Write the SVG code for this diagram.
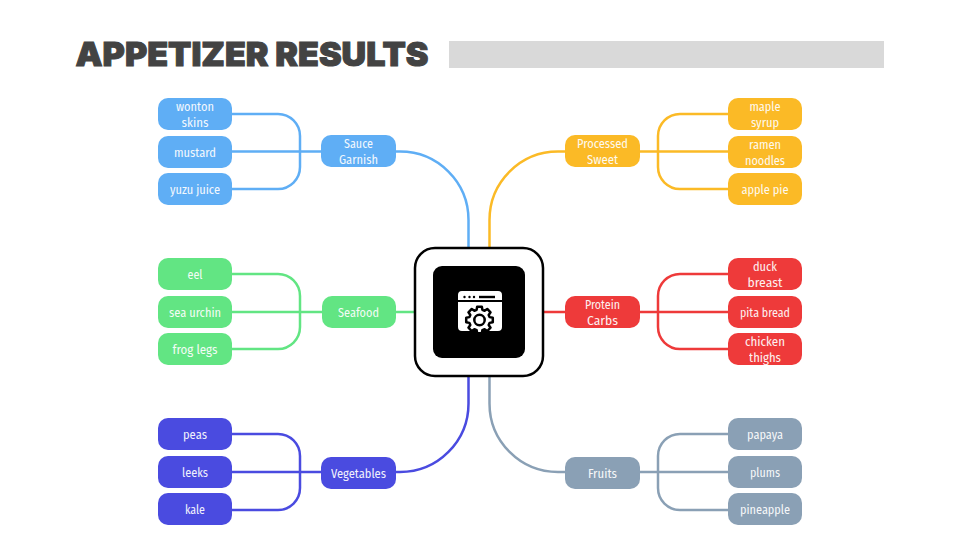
<svg xmlns="http://www.w3.org/2000/svg" width="960" height="540" viewBox="0 0 960 540">
<style>
text{font-family:"Fira Sans Condensed","Noto Sans","Liberation Sans",sans-serif;font-size:13px;fill:#fff;text-anchor:middle;opacity:.92}
#title{font-family:Inter,"Liberation Sans",sans-serif;font-weight:900;font-size:33px;fill:#434343;stroke:#434343;stroke-width:1;text-anchor:start;opacity:1}
.n{rx:10px;ry:10px}
.c{fill:none;stroke-width:2.5}
.blue{fill:#5FAEF5}.yellow{fill:#FBBA26}.green{fill:#62E583}.red{fill:#EE3A3A}.indigo{fill:#4A4BE0}.slate{fill:#8AA0B5}
.sb{stroke:#5FAEF5}.sy{stroke:#FBBA26}.sg{stroke:#62E583}.sr{stroke:#EE3A3A}.si{stroke:#4A4BE0}.ss{stroke:#8AA0B5}
</style>
<text id="title" x="75.500" y="66" textLength="353" lengthAdjust="spacingAndGlyphs">APPETIZER RESULTS</text>
<rect x="449" y="41" width="435" height="27" fill="#D9D9D9"/>
<g id="connectors">
<path class="c sb" d="M232 114H278A22 22 0 0 1 300 136V167A22 22 0 0 1 278 189H232M232 151.500H321M396 151.500H400A68.500 68.500 0 0 1 468.500 220V248"/>
<path class="c sy" d="M728 114H680A22 22 0 0 0 658 136V167A22 22 0 0 0 680 189H728M728 151.500H640M565 151.500H558A68.500 68.500 0 0 0 489.500 220V248"/>
<path class="c sg" d="M232 274H278A22 22 0 0 1 300 296V327A22 22 0 0 1 278 349H232M232 312H322M396 312H415"/>
<path class="c sr" d="M728 274H680A22 22 0 0 0 658 296V327A22 22 0 0 0 680 349H728M728 312H640M565 312H543"/>
<path class="c si" d="M232 434H278A22 22 0 0 1 300 456V488A22 22 0 0 1 278 510H232M232 472H321M396 472H400A68.500 68.500 0 0 0 468.500 403.500V376"/>
<path class="c ss" d="M728 434H680A22 22 0 0 0 658 456V488A22 22 0 0 0 680 510H728M728 472H640M565 472H558A68.500 68.500 0 0 1 489.500 403.500V376"/>
</g>
<g id="center">
<rect x="415" y="248" width="128" height="128" rx="20" fill="#fff" stroke="#000" stroke-width="2.500"/>
<rect x="433" y="266" width="92" height="92" rx="9" fill="#000"/>
<path d="M458 300V295A4 4 0 0 1 462 291H498A4 4 0 0 1 502 295V300ZM458 302H502V327A4 4 0 0 1 498 331H462A4 4 0 0 1 458 327Z" fill="#fff"/>
<circle cx="464.500" cy="297" r="1.200"/><circle cx="469.500" cy="297" r="1.200"/><circle cx="474" cy="297" r="1.200"/>
<rect x="479" y="295.800" width="16" height="2.400"/>
<polygon transform="translate(479.500 320)" fill="#fff" stroke="#000" stroke-width="2.500" stroke-linejoin="round" points="-2.89,-10.09 -2.34,-13.29 2.34,-13.29 2.89,-10.09 5.09,-9.18 7.74,-11.05 11.05,-7.74 9.18,-5.09 10.09,-2.89 13.29,-2.34 13.29,2.34 10.09,2.89 9.18,5.09 11.05,7.74 7.74,11.05 5.09,9.18 2.89,10.09 2.34,13.29 -2.34,13.29 -2.89,10.09 -5.09,9.18 -7.74,11.05 -11.05,7.74 -9.18,5.09 -10.09,2.89 -13.29,2.34 -13.29,-2.34 -10.09,-2.89 -9.18,-5.09 -11.05,-7.74 -7.74,-11.05 -5.09,-9.18"/>
<circle cx="479.500" cy="320" r="5.200" fill="#fff" stroke="#000" stroke-width="2.500"/>
</g>
<g id="sauce"><rect class="n blue" x="321" y="135" width="75" height="32"/><text x="358.500" y="148" textLength="29" lengthAdjust="spacingAndGlyphs">Sauce</text><text x="358.500" y="164" textLength="39" lengthAdjust="spacingAndGlyphs">Garnish</text></g>
<g id="wonton"><rect class="n blue" x="158" y="98" width="74" height="32"/><text x="195" y="111" textLength="38" lengthAdjust="spacingAndGlyphs">wonton</text><text x="195" y="127" textLength="27" lengthAdjust="spacingAndGlyphs">skins</text></g>
<g id="mustard"><rect class="n blue" x="158" y="136" width="74" height="32"/><text x="195" y="157" textLength="42" lengthAdjust="spacingAndGlyphs">mustard</text></g>
<g id="yuzu"><rect class="n blue" x="158" y="173" width="74" height="32"/><text x="195" y="194" textLength="50" lengthAdjust="spacingAndGlyphs">yuzu juice</text></g>
<g id="processed"><rect class="n yellow" x="565" y="135" width="75" height="32"/><text x="602.500" y="148" textLength="51" lengthAdjust="spacingAndGlyphs">Processed</text><text x="602.500" y="164" textLength="31" lengthAdjust="spacingAndGlyphs">Sweet</text></g>
<g id="maple"><rect class="n yellow" x="728" y="98" width="74" height="32"/><text x="765" y="111" textLength="31" lengthAdjust="spacingAndGlyphs">maple</text><text x="765" y="127" textLength="28" lengthAdjust="spacingAndGlyphs">syrup</text></g>
<g id="ramen"><rect class="n yellow" x="728" y="136" width="74" height="32"/><text x="765" y="149" textLength="32" lengthAdjust="spacingAndGlyphs">ramen</text><text x="765" y="165" textLength="40" lengthAdjust="spacingAndGlyphs">noodles</text></g>
<g id="apple"><rect class="n yellow" x="728" y="173" width="74" height="32"/><text x="765" y="194" textLength="47" lengthAdjust="spacingAndGlyphs">apple pie</text></g>
<g id="seafood"><rect class="n green" x="322" y="296" width="74" height="32"/><text x="358.500" y="317" textLength="41" lengthAdjust="spacingAndGlyphs">Seafood</text></g>
<g id="eel"><rect class="n green" x="158" y="258" width="74" height="32"/><text x="195" y="279" textLength="15" lengthAdjust="spacingAndGlyphs">eel</text></g>
<g id="urchin"><rect class="n green" x="158" y="296" width="74" height="32"/><text x="195" y="317" textLength="52" lengthAdjust="spacingAndGlyphs">sea urchin</text></g>
<g id="frog"><rect class="n green" x="158" y="333" width="74" height="32"/><text x="195" y="354" textLength="45" lengthAdjust="spacingAndGlyphs">frog legs</text></g>
<g id="protein"><rect class="n red" x="565" y="296" width="75" height="32"/><text x="602.500" y="309" textLength="35" lengthAdjust="spacingAndGlyphs">Protein</text><text x="602.500" y="325" textLength="31" lengthAdjust="spacingAndGlyphs">Carbs</text></g>
<g id="duck"><rect class="n red" x="728" y="258" width="74" height="32"/><text x="765" y="271" textLength="24" lengthAdjust="spacingAndGlyphs">duck</text><text x="765" y="287" textLength="35" lengthAdjust="spacingAndGlyphs">breast</text></g>
<g id="pita"><rect class="n red" x="728" y="296" width="74" height="32"/><text x="765" y="317" textLength="50" lengthAdjust="spacingAndGlyphs">pita bread</text></g>
<g id="chicken"><rect class="n red" x="728" y="333" width="74" height="32"/><text x="765" y="346" textLength="40" lengthAdjust="spacingAndGlyphs">chicken</text><text x="765" y="362" textLength="32" lengthAdjust="spacingAndGlyphs">thighs</text></g>
<g id="vegetables"><rect class="n indigo" x="321" y="457" width="75" height="32"/><text x="358.500" y="478" textLength="55" lengthAdjust="spacingAndGlyphs">Vegetables</text></g>
<g id="peas"><rect class="n indigo" x="158" y="418" width="74" height="32"/><text x="195" y="439" textLength="24" lengthAdjust="spacingAndGlyphs">peas</text></g>
<g id="leeks"><rect class="n indigo" x="158" y="456" width="74" height="32"/><text x="195" y="477" textLength="26" lengthAdjust="spacingAndGlyphs">leeks</text></g>
<g id="kale"><rect class="n indigo" x="158" y="493" width="74" height="32"/><text x="195" y="514" textLength="20" lengthAdjust="spacingAndGlyphs">kale</text></g>
<g id="fruits"><rect class="n slate" x="565" y="457" width="75" height="32"/><text x="602.500" y="478" textLength="29" lengthAdjust="spacingAndGlyphs">Fruits</text></g>
<g id="papaya"><rect class="n slate" x="728" y="418" width="74" height="32"/><text x="765" y="439" textLength="36" lengthAdjust="spacingAndGlyphs">papaya</text></g>
<g id="plums"><rect class="n slate" x="728" y="456" width="74" height="32"/><text x="765" y="477" textLength="30" lengthAdjust="spacingAndGlyphs">plums</text></g>
<g id="pineapple"><rect class="n slate" x="728" y="493" width="74" height="32"/><text x="765" y="514" textLength="50" lengthAdjust="spacingAndGlyphs">pineapple</text></g>
</svg>
